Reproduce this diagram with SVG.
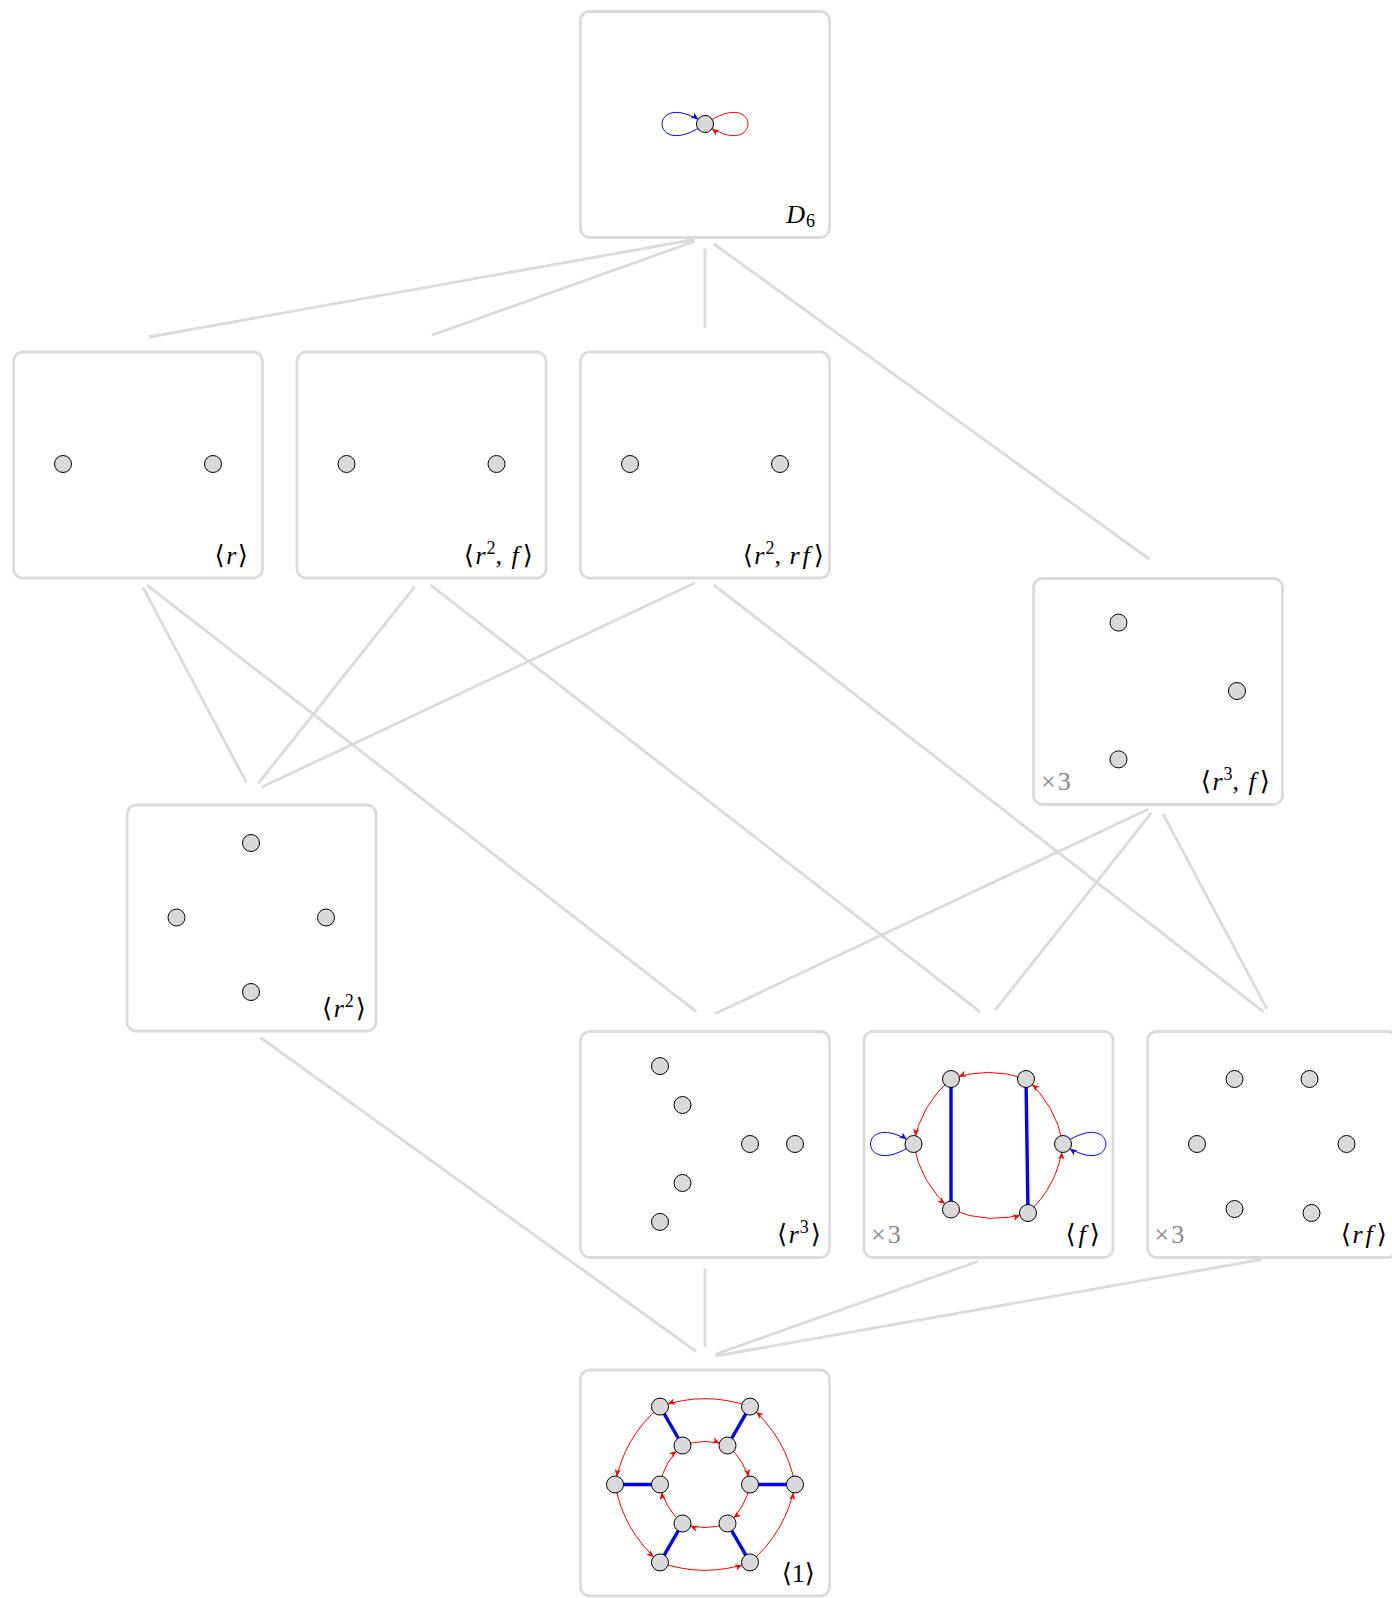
<svg xmlns="http://www.w3.org/2000/svg" width="1392" height="1598" viewBox="0 0 1392 1598">
<style>
.box{fill:#fff;stroke:#dbdbdb;stroke-width:2.8}
.con{stroke:#dbdbdb;stroke-width:2.8;fill:none}
.v{fill:#d9d9d9;stroke:#000;stroke-width:1}
.ra{fill:none;stroke:#f00;stroke-width:1;marker-end:url(#ar)}
.bl{fill:none;stroke:#00f;stroke-width:1;marker-end:url(#ab)}
.bt{fill:none;stroke:#00f;stroke-width:3.4}
.lbl{font-family:"Liberation Serif","DejaVu Serif",serif;font-size:26px;fill:#000}
.it{font-style:italic}
.sup{font-size:18px}
.x3{font-family:"Liberation Serif","DejaVu Serif",serif;font-size:26px;fill:#888}
</style>
<defs>
<marker id="ar" markerUnits="userSpaceOnUse" orient="auto" refX="8.5" refY="0" markerWidth="10" markerHeight="10" overflow="visible"><path d="M0,0 L-7,-3.2 L-5,0 L-7,3.2 Z" fill="#f00"/></marker>
<marker id="ab" markerUnits="userSpaceOnUse" orient="auto" refX="8.5" refY="0" markerWidth="10" markerHeight="10" overflow="visible"><path d="M0,0 L-7,-3.2 L-5,0 L-7,3.2 Z" fill="#00f"/></marker>
</defs>
<g id="connectors">
<line class="con" x1="694.2" y1="239.5" x2="148.8" y2="337"/>
<line class="con" x1="694.7" y1="241.3" x2="431.8" y2="335.2"/>
<line class="con" x1="705" y1="248.5" x2="705" y2="328"/>
<line class="con" x1="713.9" y1="244" x2="1149.1" y2="559"/>
<line class="con" x1="143.1" y1="587.7" x2="246.4" y2="782.3"/>
<line class="con" x1="146.7" y1="584.8" x2="696.3" y2="1011.7"/>
<line class="con" x1="414.7" y1="586.6" x2="258.3" y2="783.4"/>
<line class="con" x1="430.2" y1="584.8" x2="979.8" y2="1011.7"/>
<line class="con" x1="695.1" y1="582.7" x2="261.4" y2="787.3"/>
<line class="con" x1="713.7" y1="584.8" x2="1263.3" y2="1011.7"/>
<line class="con" x1="1148.1" y1="809.2" x2="714.9" y2="1013.8"/>
<line class="con" x1="1151.2" y1="813.2" x2="995.3" y2="1009.8"/>
<line class="con" x1="1163.1" y1="814.2" x2="1266.9" y2="1008.8"/>
<line class="con" x1="260.4" y1="1037.5" x2="696.1" y2="1351.5"/>
<line class="con" x1="705" y1="1268.5" x2="705" y2="1347"/>
<line class="con" x1="978.2" y1="1261.2" x2="715.3" y2="1354.3"/>
<line class="con" x1="1261.2" y1="1259.5" x2="715.8" y2="1356"/>
</g>
<g id="D6">
<rect class="box" x="580.5" y="11.5" width="249" height="226" rx="9"/>
<path class="bl" d="M705,124 C647.7,164.2 647.7,83.8 705,124"/>
<path class="ra" d="M705,124 C762.3,83.8 762.3,164.2 705,124"/>
<circle class="v" cx="705" cy="124" r="8.5"/>
<text class="lbl" x="815" y="222.5" text-anchor="end"><tspan class="it">D</tspan><tspan font-size="18" dx="1" dy="4">6</tspan></text>
</g>
<g id="r">
<rect class="box" x="13.5" y="352" width="249" height="226" rx="9"/>
<circle class="v" cx="63" cy="464" r="8.5"/>
<circle class="v" cx="213" cy="464" r="8.5"/>
<text class="lbl" x="248" y="563.5" text-anchor="end">⟨<tspan class="it" dx="1.5">r</tspan><tspan dx="1.5">⟩</tspan></text>
</g>
<g id="r2f">
<rect class="box" x="297" y="352" width="249" height="226" rx="9"/>
<circle class="v" cx="346.5" cy="464" r="8.5"/>
<circle class="v" cx="496.5" cy="464" r="8.5"/>
<text class="lbl" x="533" y="563.5" text-anchor="end">⟨<tspan class="it" dx="1.5">r</tspan><tspan class="sup" dx="1" dy="-10">2</tspan><tspan dy="10">, </tspan><tspan class="it" dx="3">f</tspan><tspan dx="4">⟩</tspan></text>
</g>
<g id="r2rf">
<rect class="box" x="580.5" y="352" width="249" height="226" rx="9"/>
<circle class="v" cx="630" cy="464" r="8.5"/>
<circle class="v" cx="780" cy="464" r="8.5"/>
<text class="lbl" x="824" y="563.5" text-anchor="end">⟨<tspan class="it" dx="1.5">r</tspan><tspan class="sup" dx="1" dy="-10">2</tspan><tspan dy="10">, </tspan><tspan class="it" dx="2">r</tspan><tspan class="it" dx="3">f</tspan><tspan dx="4">⟩</tspan></text>
</g>
<g id="r3f">
<rect class="box" x="1033.5" y="578.5" width="249" height="226" rx="9"/>
<circle class="v" cx="1118.5" cy="622.6" r="8.5"/>
<circle class="v" cx="1237" cy="691" r="8.5"/>
<circle class="v" cx="1118.5" cy="759.4" r="8.5"/>
<text class="x3" x="1041" y="790">×<tspan dx="2">3</tspan></text>
<text class="lbl" x="1270" y="790" text-anchor="end">⟨<tspan class="it" dx="1.5">r</tspan><tspan class="sup" dx="1" dy="-10">3</tspan><tspan dy="10">, </tspan><tspan class="it" dx="3">f</tspan><tspan dx="4">⟩</tspan></text>
</g>
<g id="r2">
<rect class="box" x="127" y="805" width="249" height="226" rx="9"/>
<circle class="v" cx="251" cy="843" r="8.5"/>
<circle class="v" cx="176.5" cy="917.5" r="8.5"/>
<circle class="v" cx="326" cy="917.5" r="8.5"/>
<circle class="v" cx="251" cy="992" r="8.5"/>
<text class="lbl" x="366" y="1016.5" text-anchor="end">⟨<tspan class="it" dx="1.5">r</tspan><tspan class="sup" dx="1" dy="-10">2</tspan><tspan dx="2" dy="10">⟩</tspan></text>
</g>
<g id="r3">
<rect class="box" x="580.5" y="1031.5" width="249" height="226" rx="9"/>
<circle class="v" cx="660" cy="1066.1" r="8.5"/>
<circle class="v" cx="682.5" cy="1105" r="8.5"/>
<circle class="v" cx="750" cy="1144" r="8.5"/>
<circle class="v" cx="795" cy="1144" r="8.5"/>
<circle class="v" cx="682.5" cy="1183" r="8.5"/>
<circle class="v" cx="660" cy="1221.9" r="8.5"/>
<text class="lbl" x="821" y="1243" text-anchor="end">⟨<tspan class="it" dx="1.5">r</tspan><tspan class="sup" dx="1" dy="-10">3</tspan><tspan dx="2" dy="10">⟩</tspan></text>
</g>
<g id="f">
<rect class="box" x="864" y="1031.5" width="249" height="226" rx="9"/>
<path class="bt" d="M951,1079 L951,1209.5 M1026,1079 L1028,1213"/>
<path class="ra" d="M1026,1079 A112.5,112.5 0 0 0 951,1079"/>
<path class="ra" d="M951,1079 A112.5,112.5 0 0 0 913.5,1144"/>
<path class="ra" d="M913.5,1144 A112.5,112.5 0 0 0 951,1209.5"/>
<path class="ra" d="M951,1209.5 A112.5,112.5 0 0 0 1028,1213"/>
<path class="ra" d="M1028,1213 A112.5,112.5 0 0 0 1063,1144"/>
<path class="ra" d="M1063,1144 A112.5,112.5 0 0 0 1026,1079"/>
<path class="bl" d="M913.5,1144 C856.2,1184.2 856.2,1103.8 913.5,1144"/>
<path class="bl" d="M1063,1144 C1120.3,1103.8 1120.3,1184.2 1063,1144"/>
<circle class="v" cx="951" cy="1079" r="8.5"/>
<circle class="v" cx="1026" cy="1079" r="8.5"/>
<circle class="v" cx="913.5" cy="1144" r="8.5"/>
<circle class="v" cx="1063" cy="1144" r="8.5"/>
<circle class="v" cx="951" cy="1209.5" r="8.5"/>
<circle class="v" cx="1028" cy="1213" r="8.5"/>
<text class="x3" x="871" y="1243">×<tspan dx="2">3</tspan></text>
<text class="lbl" x="1100" y="1243" text-anchor="end">⟨<tspan class="it" dx="3">f</tspan><tspan dx="4">⟩</tspan></text>
</g>
<g id="rf">
<rect class="box" x="1147.5" y="1031.5" width="249" height="226" rx="9"/>
<circle class="v" cx="1234.5" cy="1079" r="8.5"/>
<circle class="v" cx="1309.5" cy="1079" r="8.5"/>
<circle class="v" cx="1197" cy="1144" r="8.5"/>
<circle class="v" cx="1346.5" cy="1144" r="8.5"/>
<circle class="v" cx="1234.5" cy="1209" r="8.5"/>
<circle class="v" cx="1311.5" cy="1213" r="8.5"/>
<text class="x3" x="1154.5" y="1243">×<tspan dx="2">3</tspan></text>
<text class="lbl" x="1387" y="1243" text-anchor="end">⟨<tspan class="it" dx="1.5">r</tspan><tspan class="it" dx="3">f</tspan><tspan dx="4">⟩</tspan></text>
</g>
<g id="one">
<rect class="box" x="580.5" y="1370" width="249" height="226" rx="9"/>
<path class="bt" d="M660,1406.6 L682.5,1445.5 M750,1406.6 L727.5,1445.5 M615,1484.5 L660,1484.5 M795,1484.5 L750,1484.5 M660,1562.4 L682.5,1523.5 M750,1562.4 L727.5,1523.5"/>
<path class="ra" d="M750,1406.6 A135,135 0 0 0 660,1406.6"/>
<path class="ra" d="M660,1406.6 A135,135 0 0 0 615,1484.5"/>
<path class="ra" d="M615,1484.5 A135,135 0 0 0 660,1562.4"/>
<path class="ra" d="M660,1562.4 A135,135 0 0 0 750,1562.4"/>
<path class="ra" d="M750,1562.4 A135,135 0 0 0 795,1484.5"/>
<path class="ra" d="M795,1484.5 A135,135 0 0 0 750,1406.6"/>
<path class="ra" d="M682.5,1445.5 A67.5,67.5 0 0 1 727.5,1445.5"/>
<path class="ra" d="M727.5,1445.5 A67.5,67.5 0 0 1 750,1484.5"/>
<path class="ra" d="M750,1484.5 A67.5,67.5 0 0 1 727.5,1523.5"/>
<path class="ra" d="M727.5,1523.5 A67.5,67.5 0 0 1 682.5,1523.5"/>
<path class="ra" d="M682.5,1523.5 A67.5,67.5 0 0 1 660,1484.5"/>
<path class="ra" d="M660,1484.5 A67.5,67.5 0 0 1 682.5,1445.5"/>
<circle class="v" cx="660" cy="1406.6" r="8.5"/>
<circle class="v" cx="750" cy="1406.6" r="8.5"/>
<circle class="v" cx="615" cy="1484.5" r="8.5"/>
<circle class="v" cx="795" cy="1484.5" r="8.5"/>
<circle class="v" cx="660" cy="1562.4" r="8.5"/>
<circle class="v" cx="750" cy="1562.4" r="8.5"/>
<circle class="v" cx="682.5" cy="1445.5" r="8.5"/>
<circle class="v" cx="727.5" cy="1445.5" r="8.5"/>
<circle class="v" cx="660" cy="1484.5" r="8.5"/>
<circle class="v" cx="750" cy="1484.5" r="8.5"/>
<circle class="v" cx="682.5" cy="1523.5" r="8.5"/>
<circle class="v" cx="727.5" cy="1523.5" r="8.5"/>
<text class="lbl" x="815" y="1581.5" text-anchor="end">⟨1⟩</text>
</g>
</svg>
